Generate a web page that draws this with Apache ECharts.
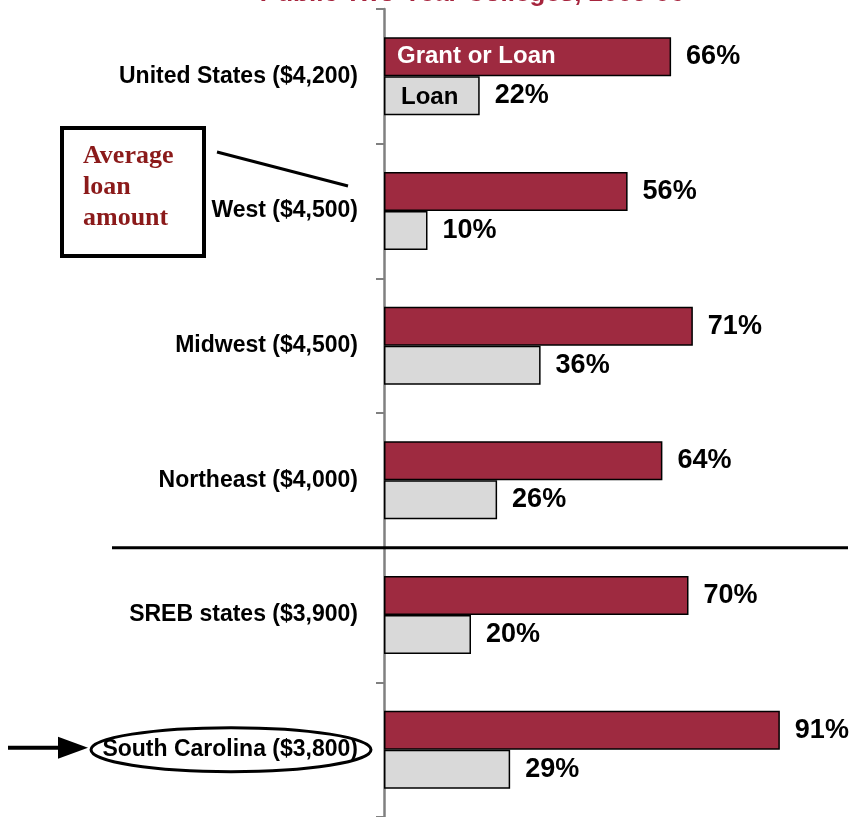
<!DOCTYPE html>
<html>
<head>
<meta charset="utf-8">
<script src="https://cdn.jsdelivr.net/npm/echarts@6/dist/echarts.min.js"></script>
<style>
html,body{margin:0;padding:0;background:#fff;}
#chart{width:851px;height:817px;}
</style>
</head>
<body>
<div id="chart"></div>
<script>
const categories = [
  'United States ($4,200)',
  'West ($4,500)',
  'Midwest ($4,500)',
  'Northeast ($4,000)',
  'SREB states ($3,900)',
  'South Carolina ($3,800)'
];
const grantOrLoan = [66, 56, 71, 64, 70, 91];
const loanOnly = [22, 10, 36, 26, 20, 29];
const seriesNames = ['Grant or Loan', 'Loan'];
const titleText = 'Public Two-Year Colleges, 2005-06';

const FONT = '"Liberation Sans", Arial, Helvetica, sans-serif';
const chart = echarts.init(document.getElementById('chart'));

const labelStyle = {
  show: true,
  position: 'right',
  distance: 15,
  formatter: '{c}%',
  color: '#000',
  fontFamily: FONT,
  fontWeight: 'bold',
  fontSize: 27
};

chart.setOption({
  animation: false,
  backgroundColor: '#fff',
  grid: { left: 384, top: 9, width: 435, height: 810, containLabel: false },
  xAxis: { type: 'value', min: 0, max: 100, show: false },
  yAxis: {
    type: 'category',
    data: categories,
    inverse: true,
    axisLine: { show: true, lineStyle: { color: '#808080', width: 2.5 } },
    axisTick: { show: true, length: 8, lineStyle: { color: '#808080', width: 2 } },
    axisLabel: {
      margin: 26,
      color: '#000',
      fontFamily: FONT,
      fontWeight: 'bold',
      fontSize: 23
    },
    splitLine: { show: false }
  },
  series: [
    {
      name: seriesNames[0],
      type: 'bar',
      data: grantOrLoan,
      barWidth: 39,
      barGap: '0%',
      itemStyle: { color: '#9e2a40', borderColor: '#000', borderWidth: 1.5 },
      label: labelStyle
    },
    {
      name: seriesNames[1],
      type: 'bar',
      data: loanOnly,
      barWidth: 39,
      barGap: '0%',
      itemStyle: { color: '#d9d9d9', borderColor: '#000', borderWidth: 1.5 },
      label: labelStyle
    }
  ]
});

// positions derived from the chart's own scales
const origin = chart.convertToPixel({ gridIndex: 0 }, [0, categories[0]]);
const sepY = (chart.convertToPixel({ gridIndex: 0 }, [0, categories[3]])[1] +
              chart.convertToPixel({ gridIndex: 0 }, [0, categories[4]])[1]) / 2;
const scPos = chart.convertToPixel({ gridIndex: 0 }, [0, categories[5]]);

chart.setOption({
  graphic: [
    {
      type: 'text', x: 472, y: -19, z: 100,
      style: { text: titleText, fill: '#a6243d', font: 'bold 26px ' + FONT, align: 'center' }
    },
    {
      type: 'text', x: origin[0] + 13, y: origin[1] - 19.5, z: 100,
      style: { text: seriesNames[0], fill: '#fff', font: 'bold 24px ' + FONT, verticalAlign: 'middle' }
    },
    {
      type: 'text', x: origin[0] + 17, y: origin[1] + 21, z: 100,
      style: { text: seriesNames[1], fill: '#000', font: 'bold 24px ' + FONT, verticalAlign: 'middle' }
    },
    {
      type: 'line', z: 100,
      shape: { x1: 112, y1: sepY, x2: 848, y2: sepY },
      style: { stroke: '#000', lineWidth: 3 }
    },
    {
      type: 'rect', z: 100,
      shape: { x: 62, y: 128, width: 142, height: 128 },
      style: { fill: '#fff', stroke: '#000', lineWidth: 4 }
    },
    {
      type: 'text', x: 83, y: 141, z: 101,
      style: {
        text: 'Average\nloan\namount',
        fill: '#8b1a1a',
        font: 'bold 26px "Liberation Serif", "Times New Roman", serif',
        lineHeight: 31
      }
    },
    {
      type: 'line', z: 100,
      shape: { x1: 217, y1: 152, x2: 348, y2: 186 },
      style: { stroke: '#000', lineWidth: 3 }
    },
    {
      type: 'ellipse', z: 100,
      shape: { cx: 231, cy: scPos[1], rx: 140, ry: 22 },
      style: { fill: null, stroke: '#000', lineWidth: 3 }
    },
    {
      type: 'line', z: 100,
      shape: { x1: 8, y1: scPos[1] - 2, x2: 62, y2: scPos[1] - 2 },
      style: { stroke: '#000', lineWidth: 4 }
    },
    {
      type: 'polygon', z: 100,
      shape: { points: [[58, scPos[1] - 13], [88, scPos[1] - 2], [58, scPos[1] + 9]] },
      style: { fill: '#000' }
    }
  ]
});
</script>
</body>
</html>
